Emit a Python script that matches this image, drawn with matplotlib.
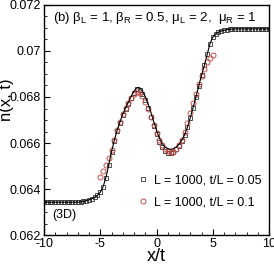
import numpy as np
import matplotlib
matplotlib.use("Agg")
import matplotlib.pyplot as plt
from matplotlib.ticker import MultipleLocator, FuncFormatter

plt.rcParams["font.family"] = ["Liberation Sans", "DejaVu Sans"]
plt.rcParams["mathtext.fontset"] = "custom"
plt.rcParams["mathtext.rm"] = "Liberation Sans"
plt.rcParams["mathtext.it"] = "Liberation Sans"
plt.rcParams["axes.unicode_minus"] = False

# grid of x/t for the black curve (step 0.25)
x_black = np.linspace(-10, 10, 81)
# theory line
n_line = [
    0.06343, 0.06343, 0.06343, 0.06343, 0.06343, 0.06343, 0.06343, 0.06343,
    0.06343, 0.06343, 0.06343, 0.06343, 0.06343,             # -10 .. -7
    0.06344, 0.06346, 0.06349, 0.06353, 0.06358, 0.06364, 0.06373,  # -6.75 .. -5.25
    0.06386, 0.06410, 0.06450, 0.06505, 0.06562, 0.06612, 0.06655,  # -5 .. -3.5
    0.06692, 0.06725, 0.06753, 0.06778, 0.06802, 0.06826, 0.06840,  # -3.25 .. -1.75
    0.06840, 0.06826, 0.06802, 0.06770, 0.06733, 0.06693, 0.06655,  # -1.5 .. 0
    0.06622, 0.06598, 0.06582, 0.06575, 0.06573, 0.06575, 0.06582,  # 0.25 .. 1.75
    0.06595, 0.06612, 0.06637, 0.06670, 0.06710, 0.06755, 0.06800,  # 2 .. 3.5
    0.06848, 0.06895, 0.06938, 0.06985, 0.07032, 0.07060, 0.07074,  # 3.75 .. 5.25
    0.07082, 0.07087, 0.07090, 0.07093, 0.07095, 0.07095,          # 5.5 .. 6.75
    0.07096, 0.07096, 0.07096, 0.07096, 0.07096, 0.07096, 0.07096,
    0.07096, 0.07096, 0.07096, 0.07096, 0.07096, 0.07096,          # 7 .. 10
]
# squares, t/L = 0.05
n_sq = [
    0.06343, 0.06343, 0.06343, 0.06343, 0.06343, 0.06343, 0.06343, 0.06343,
    0.06343, 0.06343, 0.06343, 0.06343, 0.06343,
    0.06344, 0.06346, 0.06349, 0.06353, 0.06358, 0.06364, 0.06373,
    0.06386, 0.06410, 0.06450, 0.06505, 0.06560, 0.06610, 0.06652,
    0.06688, 0.06720, 0.06747, 0.06771, 0.06795, 0.06818, 0.06833,
    0.06830, 0.06812, 0.06786, 0.06752, 0.06714, 0.06675, 0.06638,
    0.06606, 0.06582, 0.06566, 0.06558, 0.06557, 0.06562, 0.06572,
    0.06588, 0.06608, 0.06635, 0.06668, 0.06708, 0.06753, 0.06800,
    0.06848, 0.06895, 0.06938, 0.06985, 0.07032, 0.07060, 0.07074,
    0.07082, 0.07087, 0.07090, 0.07093, 0.07095, 0.07095,
    0.07096, 0.07096, 0.07096, 0.07096, 0.07096, 0.07096, 0.07096,
    0.07096, 0.07096, 0.07096, 0.07096, 0.07096, 0.07096,
]
# circles, t/L = 0.1
x_red = np.linspace(-5, 5, 41)
n_red = [
    0.06454, 0.06478, 0.06505, 0.06535, 0.06570, 0.06612, 0.06655,
    0.06692, 0.06725, 0.06752, 0.06775, 0.06797, 0.06813, 0.06820,
    0.06818, 0.06803, 0.06780, 0.06750, 0.06715, 0.06680, 0.06645,
    0.06615, 0.06592, 0.06575, 0.06565, 0.06560, 0.06562, 0.06572,
    0.06590, 0.06615, 0.06648, 0.06688, 0.06730, 0.06772, 0.06815,
    0.06855, 0.06892, 0.06923, 0.06950, 0.06970, 0.06983,
]

fig = plt.figure(figsize=(2.74, 2.74), dpi=100)
ax = fig.add_axes([0.1606, 0.142, 0.8214, 0.840])

ax.plot(x_black, n_sq, ls="none", marker="s", ms=3.0, mfc="none",
        mec="#333333", mew=0.6, label="L = 1000, t/L = 0.05")
ax.plot(x_red, n_red, ls="none", marker="o", ms=3.6, mfc="none",
        mec="#c8504a", mew=0.7, label="L = 1000, t/L = 0.1")
ax.plot(x_black, n_line, color="black", lw=0.8)

ax.set_xlim(-10, 10)
ax.set_ylim(0.062, 0.072)
ax.xaxis.set_major_locator(MultipleLocator(5))
ax.xaxis.set_minor_locator(MultipleLocator(1))
ax.yaxis.set_major_locator(MultipleLocator(0.002))
ax.yaxis.set_minor_locator(MultipleLocator(0.0005))
ax.yaxis.set_major_formatter(FuncFormatter(lambda v, p: "%g" % round(v, 4)))
ax.tick_params(which="both", direction="in", labelsize=9, pad=2)
ax.tick_params(which="major", length=4)
ax.tick_params(which="minor", length=2)
for s in ax.spines.values():
    s.set_linewidth(1.0)

ax.set_xlabel("x/t", fontsize=13, labelpad=-1)
ax.set_ylabel("n(x, t)", fontsize=12)
ax.yaxis.set_label_coords(-0.135, 0.59)

ax.text(0.04, 0.98, r"(b) $\beta_\mathrm{L}$ = 1, $\beta_\mathrm{R}$ = 0.5, "
        r"$\mu_\mathrm{L}$ = 2,  $\mu_\mathrm{R}$ = 1",
        transform=ax.transAxes, fontsize=9.5, va="top", ha="left")
ax.text(0.035, 0.06, "(3D)", transform=ax.transAxes, fontsize=9,
        va="bottom", ha="left")

ax.legend(loc="lower right", frameon=False, fontsize=9, handlelength=0.8,
          handletextpad=0.5, labelspacing=0.75, borderaxespad=0.2,
          bbox_to_anchor=(1.0, 0.085))

fig.savefig("out.png", dpi=100)
